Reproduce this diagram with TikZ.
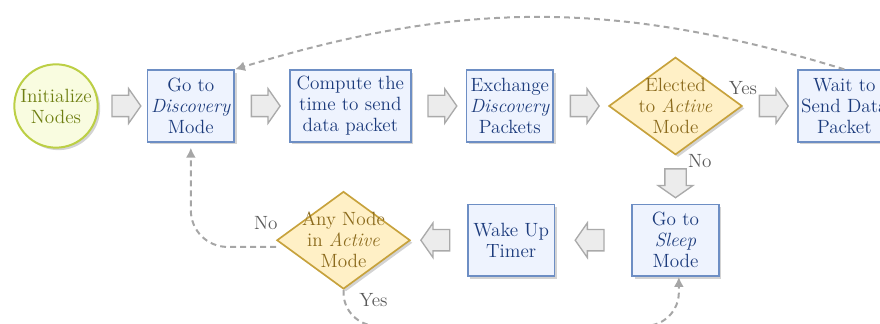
\documentclass[tikz,border=0pt]{standalone}
\usepackage{amsmath}
\usepackage{tikz}
\usetikzlibrary{positioning,calc,arrows.meta,shapes.geometric,shapes.arrows,shadows}

\definecolor{boxfill}{HTML}{EEF3FE}
\definecolor{boxdraw}{HTML}{6D8EC4}
\definecolor{boxtext}{HTML}{1C3B7C}
\definecolor{startfill}{HTML}{F9FCE0}
\definecolor{startdraw}{HTML}{BCCF45}
\definecolor{starttext}{HTML}{6F7F12}
\definecolor{decfill}{HTML}{FFF0C6}
\definecolor{decdraw}{HTML}{C7A23C}
\definecolor{dectext}{HTML}{8B6A1C}
\definecolor{arrowfill}{HTML}{ECECEC}
\definecolor{arrowdraw}{HTML}{AAAAAA}
\definecolor{linegray}{HTML}{A6A6A6}
\definecolor{labelgray}{HTML}{5A5A5A}

\begin{document}
\begin{tikzpicture}[
font=\fontsize{11.5}{12.6}\selectfont,
node distance=32.4pt,
myshadow/.style={
  drop shadow={shadow xshift=1.5pt,shadow yshift=-1.5pt,opacity=0.35}
  },
mystart/.style={
  circle,
  draw=startdraw,
  line width=1.2pt,
  fill=startfill,
  text=starttext,
  align=center,
  inner sep=0pt,
  minimum size=50pt,
  myshadow
  },
mybox/.style={
  draw=boxdraw,
  line width=1pt,
  fill=boxfill,
  text=boxtext,
  align=center,
  minimum width=52pt,
  minimum height=43pt,
  inner xsep=2pt,
  myshadow
  },
mydecision/.style={
  diamond,
  aspect=1.37,
  draw=decdraw,
  line width=1pt,
  fill=decfill,
  text=dectext,
  align=center,
  inner sep=-4pt,
  minimum width=80pt,
  minimum height=58.5pt,
  myshadow
  },
myarrow/.style={
  single arrow,
  draw=arrowdraw,
  fill=arrowfill,
  line width=0.8pt,
  minimum height=14.5pt,
  inner sep=6pt,
  single arrow head extend=4pt,
  single arrow tip angle=110
  },
myline/.style={
  draw=linegray,
  line width=1.2pt,
  dash pattern=on 3.5pt off 2.5pt,
  -{Latex[length=6pt,width=6pt]}
  },
mylabel/.style={text=labelgray}
]
\useasboundingbox (-33.6pt,63.6pt) rectangle ++(528pt,-194.4pt);

% upper row
\node[mystart] (init) at (0,0) {Initialize\\Nodes};
\node[mybox, right=28.8pt of init] (go) {Go to\\\emph{Discovery}\\Mode};
\node[mybox, right=of go, minimum width=72.6pt] (compute) {Compute the\\time to send\\data packet};
\node[mybox, right=of compute] (exchange) {Exchange\\\emph{Discovery}\\Packets};
\node[mydecision, right=of exchange] (elected) {Elected\\to \emph{Active}\\Mode};
\node[mybox, right=of elected] (wait) {Wait to\\Send Data\\Packet};

% lower row
\node[mybox, below=28.8pt of elected] (sleep) {Go to\\\emph{Sleep}\\Mode};
\node[mybox, left=45.6pt of sleep] (wake) {Wake Up\\Timer};
\node[mydecision, left=33.6pt of wake] (any) {Any Node\\in \emph{Active}\\Mode};

% block arrows halfway between the steps
\foreach \From/\To/\Name in {init/go/a1,go/compute/a2,compute/exchange/a3,exchange/elected/a4,elected/wait/a5}
  \node[myarrow] (\Name) at ($(\From.east)!0.5!(\To.west)$) {};
\node[myarrow, shape border rotate=270] (a6) at ($(elected.south)!0.5!(sleep.north)$) {};
\node[myarrow, shape border rotate=180] (a7) at ($(sleep.west)!0.5!(wake.east)$) {};
\node[myarrow, shape border rotate=180] (a8) at ($(wake.west)!0.5!(any.east)$) {};

% answers
\node[mylabel, above=3pt of elected.east] (yes1) {Yes};
\node[mylabel, below right=-4pt and 4pt of elected.south] (no1) {No};
\node[mylabel, above left=3pt and -4.5pt of any.west] (no2) {No};
\node[mylabel, below right=-1.5pt and 6pt of any.south] (yes2) {Yes};

% loops back
\draw[myline] (wait.north) to[bend right=17] (go.north east);
\draw[myline, rounded corners=22pt, shorten >=3pt] ([yshift=-4pt]any.west) -| (go.south);
\draw[myline, rounded corners=20pt] (any.south) -- ++(0,-21.6pt) -| ([xshift=2pt]sleep.south);
\end{tikzpicture}
\end{document}
